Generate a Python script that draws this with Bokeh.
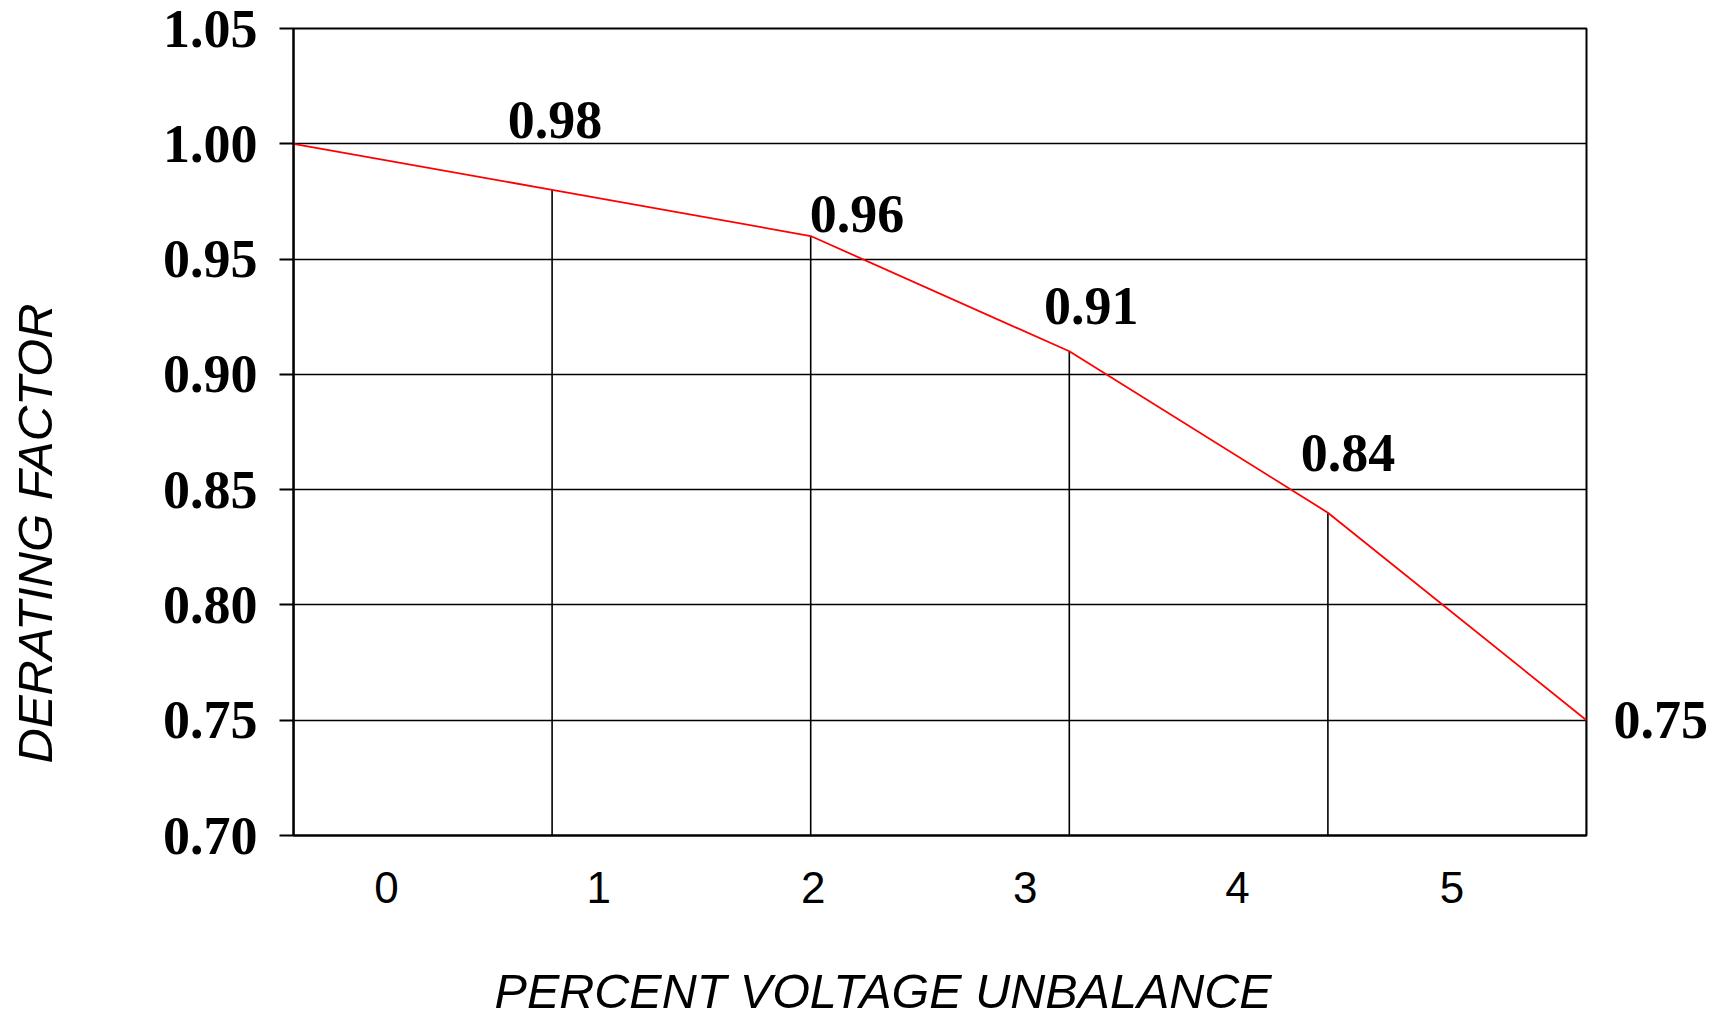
import math
from bokeh.plotting import figure
from bokeh.layouts import row
from bokeh.models import ColumnDataSource, FixedTicker, LinearAxis, Range1d, PrintfTickFormatter
from bokeh.embed import file_html
from bokeh.resources import INLINE
from bokeh.core.properties import value

# ---- data ----
unbalance_pct = [0, 1, 2, 3, 4, 5]
derating_factor = [1.00, 0.98, 0.96, 0.91, 0.84, 0.75]
x_tick_labels = ["0", "1", "2", "3", "4", "5"]
x_tick_positions = [0.36, 1.18, 2.01, 2.83, 3.65, 4.48]
y_ticks = [0.70, 0.75, 0.80, 0.85, 0.90, 0.95, 1.00, 1.05]
x_title = "PERCENT VOLTAGE UNBALANCE"
y_title = "DERATING FACTOR"
x_title_pos = 2.28    # where the titles sit along their axes
y_title_pos = 0.831

# ---- styles for the value labels (screen offsets) ----
label_dx = [3, -1, 22, 20]
label_dy = [-70, -22, -45, -60]
label_align = ["center", "left", "center", "center"]

Y_MIN, Y_MAX = y_ticks[0], y_ticks[-1]
SERIF = "Liberation Serif"
SANS = "Liberation Sans"
W, H = 1711, 1020
W_LEFT = 120
TOP, BOTTOM = 28, 185

p = figure(width=W - W_LEFT, height=H,
           x_range=Range1d(unbalance_pct[0], unbalance_pct[-1]),
           y_range=Range1d(Y_MIN, Y_MAX),
           output_backend="svg", toolbar_location=None,
           min_border_left=293 - W_LEFT, min_border_right=123,
           min_border_top=TOP, min_border_bottom=BOTTOM)
p.background_fill_color = "white"
p.border_fill_color = "white"
p.outline_line_color = "black"
p.outline_line_width = 2

# x axis
p.xaxis.ticker = FixedTicker(ticks=x_tick_positions)
p.xaxis.major_label_overrides = {pos: lab for pos, lab in zip(x_tick_positions, x_tick_labels)}
p.xaxis.major_tick_line_color = None
p.xaxis.minor_tick_line_color = None
p.xaxis.major_tick_out = 0
p.xaxis.major_tick_in = 0
p.xaxis.major_label_standoff = 36
p.xaxis.major_label_text_font = SANS
p.xaxis.major_label_text_font_size = "44px"
p.xaxis.major_label_text_color = "black"
p.xaxis.axis_line_color = "black"
p.xaxis.axis_line_width = 2

# y axis
p.yaxis.ticker = FixedTicker(ticks=y_ticks)
p.yaxis.formatter = PrintfTickFormatter(format="%.2f")
p.yaxis.major_tick_out = 14
p.yaxis.major_tick_in = 0
p.yaxis.major_tick_line_color = "black"
p.yaxis.major_tick_line_width = 2
p.yaxis.minor_tick_line_color = None
p.yaxis.major_label_standoff = 22
p.yaxis.major_label_text_font = SERIF
p.yaxis.major_label_text_font_style = "bold"
p.yaxis.major_label_text_font_size = "54px"
p.yaxis.major_label_text_color = "black"
p.yaxis.axis_line_color = "black"
p.yaxis.axis_line_width = 2

# x-axis title (an outer axis with one labelled tick)
xt = LinearAxis(ticker=FixedTicker(ticks=[x_title_pos]),
                major_label_overrides={x_title_pos: x_title})
xt.axis_line_color = None
xt.major_tick_line_color = None
xt.minor_tick_line_color = None
xt.major_tick_out = 0
xt.major_label_standoff = 58
xt.major_label_text_font = SANS
xt.major_label_text_font_style = "italic"
xt.major_label_text_font_size = "48.5px"
xt.major_label_text_color = "black"
p.add_layout(xt, "below")

# label of the last point, outside the frame on the right
rt = LinearAxis(ticker=FixedTicker(ticks=[derating_factor[-1]]),
                formatter=PrintfTickFormatter(format="%.2f"))
rt.axis_line_color = None
rt.major_tick_line_color = None
rt.minor_tick_line_color = None
rt.major_tick_out = 0
rt.major_label_standoff = 27
rt.major_label_text_font = SERIF
rt.major_label_text_font_style = "bold"
rt.major_label_text_font_size = "54px"
rt.major_label_text_color = "black"
p.add_layout(rt, "right")

# grids
p.xgrid.visible = False
p.ygrid.grid_line_color = "black"
p.ygrid.grid_line_width = 1.6
p.ygrid.grid_line_alpha = 1.0

# drop lines from each point to the bottom
p.segment(x0=unbalance_pct, y0=[Y_MIN] * len(unbalance_pct),
          x1=unbalance_pct, y1=derating_factor,
          line_color="black", line_width=1.6)

# the curve
p.line(unbalance_pct, derating_factor, line_color="#ff0000", line_width=1.8)

# value labels inside the frame
src = ColumnDataSource(dict(
    x=unbalance_pct[1:-1], y=derating_factor[1:-1],
    text=[f"{v:.2f}" for v in derating_factor[1:-1]],
    dx=label_dx, dy=label_dy, align=label_align))
p.text(x="x", y="y", text="text", source=src,
       x_offset="dx", y_offset="dy", text_align="align",
       text_baseline="alphabetic",
       text_font=value(SERIF), text_font_style="bold",
       text_font_size="54px", text_color="black")

# y-axis title in a narrow strip sharing the y scale
side = figure(width=W_LEFT, height=H, x_range=Range1d(0, 1), y_range=p.y_range,
              x_axis_type=None, y_axis_type=None,
              output_backend="svg", toolbar_location=None,
              min_border_left=0, min_border_right=0,
              min_border_top=TOP, min_border_bottom=BOTTOM)
side.outline_line_color = None
side.background_fill_color = "white"
side.border_fill_color = "white"
side.text(x=[0.285], y=[y_title_pos], text=[y_title], angle=math.pi / 2,
          text_align="center", text_baseline="middle",
          text_font=value(SANS), text_font_style="italic",
          text_font_size="49px", text_color="black")

layout = row(side, p)
open("out.html", "w").write(file_html(layout, INLINE))
